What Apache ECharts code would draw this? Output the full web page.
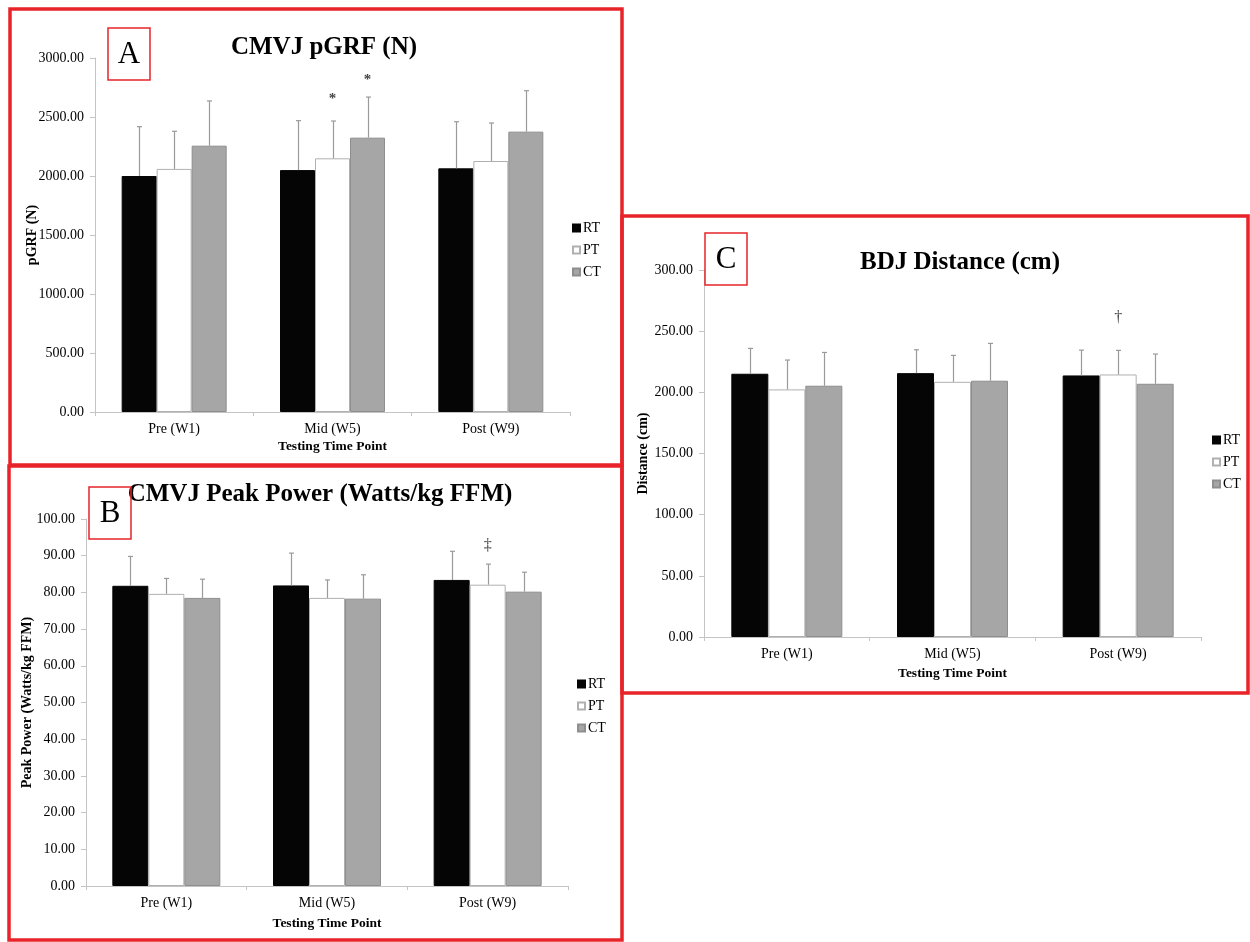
<!DOCTYPE html>
<html><head><meta charset="utf-8">
<script src="https://cdn.jsdelivr.net/npm/echarts@6/dist/echarts.min.js"></script>
<style>html,body{margin:0;padding:0;background:#fff}#c{width:1250px;height:942px}</style>
</head><body><div id="c"></div>
<script>
// ---------- data ----------
const categories = ['Pre (W1)', 'Mid (W5)', 'Post (W9)'];
const groups = ['RT', 'PT', 'CT'];

// Panel A: CMVJ pGRF (N)
const aRT = [2000, 2050, 2065];  const aRTsd = [418, 419, 395];
const aPT = [2060, 2150, 2127];  const aPTsd = [319, 316, 322];
const aCT = [2257, 2325, 2376];  const aCTsd = [379, 344, 347];
const aMarks = [{cat: 1, grp: 1, y: 2650, sym: '*'}, {cat: 1, grp: 2, y: 2810, sym: '*'}];

// Panel B: CMVJ Peak Power (Watts/kg FFM)
const bRT = [81.8, 81.9, 83.4];  const bRTsd = [8.0, 8.8, 7.8];
const bPT = [79.6, 78.5, 82.1];  const bPTsd = [4.2, 4.9, 5.6];
const bCT = [78.5, 78.3, 80.2];  const bCTsd = [5.1, 6.5, 5.3];
const bMarks = [{cat: 2, grp: 1, y: 92.7, sym: '‡'}];

// Panel C: BDJ Distance (cm)
const cRT = [215.2, 215.7, 213.8]; const cRTsd = [20.7, 19.1, 20.7];
const cPT = [202.4, 208.6, 214.6]; const cPTsd = [24.0, 21.6, 19.7];
const cCT = [205.4, 209.5, 207.0]; const cCTsd = [27.2, 30.5, 24.3];
const cMarks = [{cat: 2, grp: 1, y: 261, sym: '†'}];

// ---------- styles ----------
const SERIF = '"Liberation Serif", "Times New Roman", serif';
const RED = '#e8242a';
const AXIS = '#c4c4c4';
const ERR = '#9a9a9a';
const barStyles = [
  {color: '#050505', borderColor: '#050505', borderWidth: 1},
  {color: '#ffffff', borderColor: '#b0b0b0', borderWidth: 1},
  {color: '#a6a6a6', borderColor: '#8e8e8e', borderWidth: 1}
];

const panels = [
  {title: 'CMVJ pGRF (N)', yName: 'pGRF (N)', max: 3000, interval: 500,
   grid: {left: 95, right: 680, top: 58, bottom: 530}, barW: 35,
   titlePos: [319, 30], legendPos: [567, 216], yNameGap: 56, xNameGap: 28,
   means: [aRT, aPT, aCT], sds: [aRTsd, aPTsd, aCTsd], marks: aMarks},
  {title: 'CMVJ Peak Power (Watts/kg FFM)', yName: 'Peak Power (Watts/kg FFM)', max: 100, interval: 10,
   grid: {left: 86, right: 682, top: 519, bottom: 56}, barW: 36,
   titlePos: [315, 477], legendPos: [572, 672], yNameGap: 52, xNameGap: 31,
   means: [bRT, bPT, bCT], sds: [bRTsd, bPTsd, bCTsd], marks: bMarks},
  {title: 'BDJ Distance (cm)', yName: 'Distance (cm)', max: 300, interval: 50,
   grid: {left: 704, right: 49, top: 270, bottom: 305}, barW: 37,
   titlePos: [955, 245], legendPos: [1207, 428], yNameGap: 54, xNameGap: 30,
   means: [cRT, cPT, cCT], sds: [cRTsd, cPTsd, cCTsd], marks: cMarks}
];

const option = {
  animation: false,
  backgroundColor: '#ffffff',
  title: [], grid: [], xAxis: [], yAxis: [], legend: [], series: [],
  graphic: []
};

panels.forEach((p, i) => {
  option.title.push({
    text: p.title, left: p.titlePos[0], top: p.titlePos[1], textAlign: 'center',
    textStyle: {fontFamily: SERIF, fontWeight: 'bold', fontSize: 25, color: '#000'}
  });
  option.grid.push(Object.assign({containLabel: false}, p.grid));
  option.xAxis.push({
    type: 'category', gridIndex: i, data: categories,
    name: 'Testing Time Point', nameLocation: 'middle', nameGap: p.xNameGap,
    nameMoveOverlap: false,
    nameTextStyle: {fontFamily: SERIF, fontWeight: 'bold', fontSize: 13.5, color: '#000'},
    axisLine: {lineStyle: {color: AXIS, width: 1}},
    axisTick: {show: true, length: 4, lineStyle: {color: AXIS}},
    axisLabel: {fontFamily: SERIF, fontSize: 14, color: '#000', margin: 10},
    splitLine: {show: false}
  });
  option.yAxis.push({
    type: 'value', gridIndex: i, min: 0, max: p.max, interval: p.interval,
    name: p.yName, nameLocation: 'middle', nameGap: p.yNameGap, nameRotate: 90,
    nameMoveOverlap: false,
    nameTextStyle: {fontFamily: SERIF, fontWeight: 'bold', fontSize: 14, color: '#000'},
    axisLine: {show: true, lineStyle: {color: AXIS, width: 1}},
    axisTick: {show: true, length: 5, lineStyle: {color: AXIS}},
    axisLabel: {fontFamily: SERIF, fontSize: 14, color: '#000', margin: 11,
                formatter: v => v.toFixed(2)},
    splitLine: {show: false}
  });
  option.legend.push({
    data: groups, orient: 'vertical', left: p.legendPos[0], top: p.legendPos[1],
    icon: 'rect', itemWidth: 7, itemHeight: 7, itemGap: 8, selectedMode: false,
    textStyle: {fontFamily: SERIF, fontSize: 14, color: '#000', padding: [0, 0, 0, -2]}
  });
  groups.forEach((g, k) => {
    option.series.push({
      name: g, type: 'bar', xAxisIndex: i, yAxisIndex: i,
      data: p.means[k], barWidth: p.barW, barGap: '0%',
      itemStyle: barStyles[k], emphasis: {disabled: true}
    });
  });
  // error bars
  const errData = [];
  groups.forEach((g, k) => p.means[k].forEach((m, c) => errData.push([c, m, p.sds[k][c], k])));
  const bw = p.barW;
  option.series.push({
    type: 'custom', xAxisIndex: i, yAxisIndex: i, z: 5, silent: true,
    encode: {x: 0, y: 1}, data: errData,
    renderItem: function (params, api) {
      const cat = api.value(0), mean = api.value(1), sd = api.value(2), slot = api.value(3);
      const p0 = api.coord([cat, mean]);
      const p1 = api.coord([cat, mean + sd]);
      const x = Math.round(p0[0] + (slot - 1) * bw) + 0.5;
      return {type: 'group', children: [
        {type: 'line', shape: {x1: x, y1: p0[1], x2: x, y2: p1[1]}, style: {stroke: ERR, lineWidth: 1.2}},
        {type: 'line', shape: {x1: x - 2.5, y1: p1[1], x2: x + 2.5, y2: p1[1]}, style: {stroke: ERR, lineWidth: 1.2}}
      ]};
    }
  });
  // significance markers
  const marks = p.marks;
  option.series.push({
    type: 'custom', xAxisIndex: i, yAxisIndex: i, z: 6, silent: true,
    encode: {x: 0, y: 1}, data: marks.map(m => [m.cat, m.y, m.grp]),
    renderItem: function (params, api) {
      const pt = api.coord([api.value(0), api.value(1)]);
      const x = pt[0] + (api.value(2) - 1) * bw;
      const sym = marks[params.dataIndex].sym;
      return {type: 'text', x: x, y: pt[1],
        style: {text: sym, fill: '#444', font: (sym === '*' ? 'bold 15px ' : '16px ') + SERIF,
                align: 'center', verticalAlign: 'middle'}};
    }
  });
});

// frames and panel letters
const frames = [
  {x: 10, y: 9, w: 612, h: 456},
  {x: 9, y: 466, w: 613, h: 474},
  {x: 622, y: 216, w: 626, h: 477}
];
frames.forEach(f => option.graphic.push({
  type: 'rect', shape: {x: f.x, y: f.y, width: f.w, height: f.h}, z: 100, silent: true,
  style: {fill: 'none', stroke: RED, lineWidth: 3.5}
}));
const letters = [
  {t: 'A', x: 108, y: 28}, {t: 'B', x: 89, y: 487}, {t: 'C', x: 705, y: 233}
];
letters.forEach(l => {
  option.graphic.push({type: 'rect', shape: {x: l.x, y: l.y, width: 42, height: 52}, z: 100, silent: true,
    style: {fill: 'none', stroke: RED, lineWidth: 1.5}});
  option.graphic.push({type: 'text', x: l.x + 21, y: l.y + 27, z: 101, silent: true,
    style: {text: l.t, font: '31px ' + SERIF, fill: '#000', align: 'center', verticalAlign: 'middle'}});
});

const chart = echarts.init(document.getElementById('c'), null, {renderer: 'canvas'});
chart.setOption(option);
</script></body></html>
